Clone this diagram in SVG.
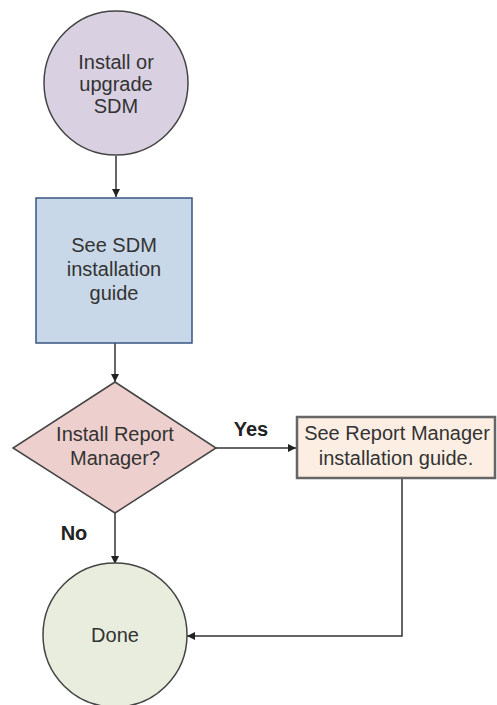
<svg xmlns="http://www.w3.org/2000/svg" width="497" height="705" viewBox="0 0 497 705">
<defs>
<style>
.t{font-family:"Liberation Sans",Arial,sans-serif;font-size:20px;fill:#333;text-anchor:middle;dominant-baseline:central}
.b{font-family:"Liberation Sans",Arial,sans-serif;font-size:20px;font-weight:bold;fill:#222;text-anchor:middle;dominant-baseline:central}
.c{stroke:#333;stroke-width:1.5;fill:none}
</style>
<marker id="ah" viewBox="0 0 10 10" refX="10" refY="5" markerWidth="8" markerHeight="8" markerUnits="userSpaceOnUse" orient="auto"><path d="M0,0 L10,5 L0,10 z" fill="#222"/></marker>
</defs>
<rect width="497" height="705" fill="#fff"/>
<g id="connectors">
<line class="c" x1="116" y1="156" x2="116" y2="197" marker-end="url(#ah)"/>
<line class="c" x1="115" y1="343" x2="115" y2="382" marker-end="url(#ah)"/>
<line class="c" x1="216" y1="448" x2="296" y2="448" marker-end="url(#ah)" stroke-width="2"/>
<line class="c" x1="115" y1="513" x2="115" y2="564" marker-end="url(#ah)"/>
<polyline class="c" points="402,478 402,636 187,636" marker-end="url(#ah)" stroke-width="2"/>
<text class="b" x="251" y="429">Yes</text>
<text class="b" x="74" y="533">No</text>
</g>
<g id="start">
<circle cx="116" cy="83" r="72" fill="#D9D1E2" stroke="#444" stroke-width="1.5"/>
<text class="t" x="116" y="62">Install or</text>
<text class="t" x="116" y="84">upgrade</text>
<text class="t" x="116" y="106">SDM</text>
</g>
<g id="sdm-guide">
<rect x="36" y="198" width="156" height="145" fill="#C9D8E8" stroke="#3A5482" stroke-width="1.5"/>
<text class="t" x="114" y="245">See SDM</text>
<text class="t" x="114" y="269">installation</text>
<text class="t" x="114" y="293">guide</text>
</g>
<g id="decision">
<polygon points="115,382 216,448 115,513 13,448" fill="#EDCFCE" stroke="#444" stroke-width="1.5"/>
<text class="t" x="115" y="434">Install Report</text>
<text class="t" x="115" y="458">Manager?</text>
</g>
<g id="rm-guide">
<rect x="297" y="417" width="198" height="61" fill="#FCEEE3" stroke="#666" stroke-width="2.5"/>
<text class="t" x="397" y="433" font-size="20.5">See Report Manager</text>
<text class="t" x="396" y="458" font-size="20.5">installation guide.</text>
</g>
<g id="done">
<circle cx="115" cy="635" r="72" fill="#E9EDDD" stroke="#444" stroke-width="1.5"/>
<text class="t" x="115" y="635">Done</text>
</g>
</svg>
